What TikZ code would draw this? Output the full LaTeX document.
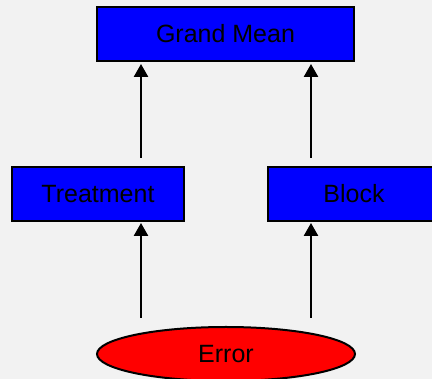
\documentclass[tikz,border=0pt]{standalone}
\usepackage{fontspec}
\setmainfont{Liberation Sans}
\usetikzlibrary{arrows.meta,shapes.geometric}
\definecolor{bg}{HTML}{F2F2F2}
\definecolor{boxblue}{HTML}{0000FF}
\definecolor{ellred}{HTML}{FF0000}
\begin{document}
\begin{tikzpicture}[x=1pt,y=-1pt,
  bluebox/.style={draw=black,line width=2pt,fill=boxblue,minimum height=54pt,inner sep=0pt,font=\fontsize{25}{29}\selectfont,text=black},
  errell/.style={ellipse,draw=black,line width=2pt,fill=ellred,minimum width=258pt,minimum height=54pt,inner sep=0pt,font=\fontsize{25}{29}\selectfont,text=black},
  arr/.style={line width=2.5pt,-{Triangle[width=14pt,length=13pt]}}]
\path[use as bounding box,fill=bg] (0,0) rectangle (432,379);
\begin{scope}
\clip (0,0) rectangle (432,379);
\node[bluebox,minimum width=257pt] (gm) at (225.5,34) {Grand Mean};
\node[bluebox,minimum width=172pt] (treat) at (98,194) {Treatment};
\node[bluebox,minimum width=172pt] (block) at (354,194) {Block};
\node[errell] (err) at (226,354) {Error};
\coordinate (u1) at (141,158);
\coordinate (u2) at (311,158);
\coordinate (l1) at (141,318);
\coordinate (l2) at (311,318);
\draw[arr,shorten >=2pt] (u1) -- (gm.south -| u1);
\draw[arr,shorten >=2pt] (u2) -- (gm.south -| u2);
\draw[arr,shorten >=1pt] (l1) -- (treat.south -| l1);
\draw[arr,shorten >=1pt] (l2) -- (block.south -| l2);
\end{scope}
\end{tikzpicture}
\end{document}
